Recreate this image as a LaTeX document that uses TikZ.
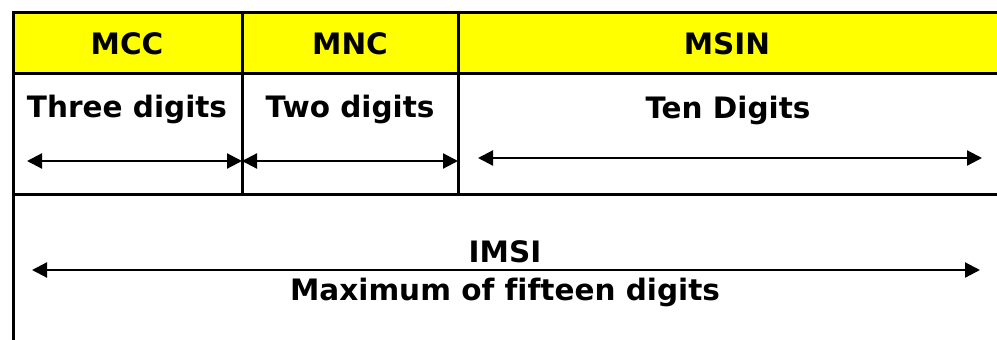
\documentclass[tikz,border=0pt]{standalone}
\usepackage{fontspec}
\setmainfont[Ligatures=NoCommon]{DejaVu Sans}
\usetikzlibrary{arrows.meta}
\definecolor{hdryellow}{RGB}{255,255,0}
\begin{document}
\begin{tikzpicture}[x=1pt,y=-1pt,
  lbl/.style={font=\bfseries\fontsize{29.5}{34}\selectfont, inner sep=0pt, anchor=base},
  rule/.style={line width=3pt},
  dim/.style={line width=2.2pt, {Triangle[length=15pt,width=15pt]}-{Triangle[length=15pt,width=15pt]}}]
\useasboundingbox (0,0) rectangle (997,340);
\fill[hdryellow] (13,12) rectangle (997,73);
\draw[rule] (997,12) -- (13,12) -- (13,340);
\draw[rule] (13,73) -- (997,73);
\draw[rule] (13,194) -- (997,194);
\draw[rule] (242,12) -- (242,194);
\draw[rule] (458,12) -- (458,194);
\node[lbl] (mcc) at (127,54) {MCC};
\node[lbl] (mnc) at (350,54) {MNC};
\node[lbl] (msin) at (727,54) {MSIN};
\node[lbl] (t3) at (127,117) {Three digits};
\node[lbl] (t2) at (350,117) {Two digits};
\node[lbl] (t10) at (728,118) {Ten Digits};
\node[lbl] (imsi) at (505,262) {IMSI};
\node[lbl] (max) at (505,300) {Maximum of fifteen digits};
\coordinate (a1l) at (27,161);
\coordinate (a1r) at (242,161);
\coordinate (a2l) at (242,161);
\coordinate (a2r) at (458,161);
\coordinate (a3l) at (478,158);
\coordinate (a3r) at (982,158);
\coordinate (a4l) at (32,270);
\coordinate (a4r) at (980,270);
\draw[dim] (a1l) -- (a1r);
\draw[dim] (a2l) -- (a2r);
\draw[dim] (a3l) -- (a3r);
\draw[dim] (a4l) -- (a4r);
\end{tikzpicture}
\end{document}
